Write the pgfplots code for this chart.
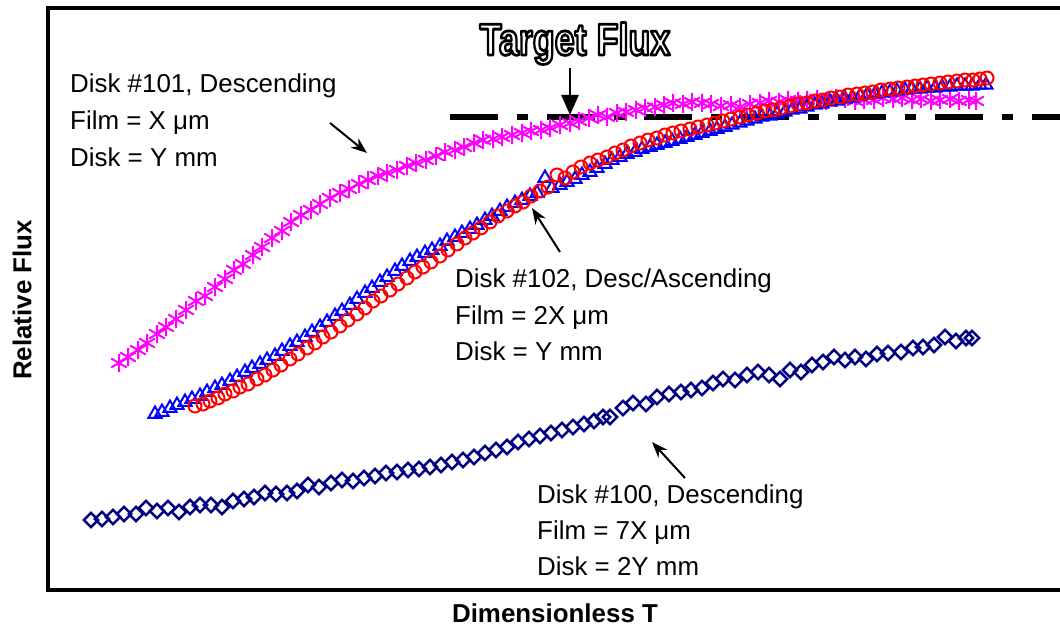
\documentclass[border=0pt]{standalone}
\usepackage{fontspec}
\setmainfont{Liberation Sans}
\usepackage{graphicx}
\usepackage{pgfplots}
\pgfplotsset{compat=1.18}
\usetikzlibrary{arrows.meta}
\definecolor{mag}{RGB}{255,0,255}
\definecolor{myblue}{RGB}{0,0,255}
\definecolor{myred}{RGB}{255,0,0}
\definecolor{navy}{RGB}{0,0,128}
\newcommand{\TF}{\fontsize{45}{45}\selectfont\bfseries\scalebox{0.8}[1]{\special{pdf:literal direct 0 G 2 Tr 2.8 w 1 J 1 j}Target Flux\special{pdf:literal direct 0 Tr}}}
\tikzset{lab/.style={anchor=base west, inner sep=0pt, font=\fontsize{26}{37}\selectfont}}
\begin{document}
\begin{tikzpicture}
\path[use as bounding box] (0,0) rectangle (1060bp,628bp);
\begin{axis}[
  at={(48bp,38bp)}, anchor=south west,
  scale only axis, width=1014bp, height=582bp,
  xmin=48, xmax=1062, ymin=8, ymax=590, y dir=reverse,
  axis line style={line width=4bp},
  ticks=none, clip=false,
]
% Disk #101 (magenta asterisks)
\addplot[only marks, mark=asterisk, color=mag, mark size=9bp, mark options={line width=2bp}] coordinates {
(119,363)(128,357)(138,350)(147,343)(157,334)(166,327)(176,319)(186,310)(196,301)(205,296)
(215,287)(225,279)(234,270)(243,264)(253,255)(262,247)(272,238)(282,231)(291,222)(301,215)
(311,210)(320,204)(330,198)(340,193)(349,189)(359,184)(368,180)(378,176)(387,173)(397,170)
(407,166)(416,163)(426,160)(436,156)(445,152)(455,150)(464,147)(474,143)(483,140)(493,139)
(502,137)(512,135)(522,133)(531,131)(541,130)(550,128)(560,125)(570,123)(579,121)(589,118)
(598,115)(607,117)(617,113)(626,112)(636,110)(645,108)(655,107)(664,105)(673,103)(683,104)
(692,102)(702,103)(711,104)(721,106)(731,105)(740,107)(750,104)(760,103)(769,101)(779,102)
(788,100)(798,101)(807,100)(817,99)(826,101)(836,98)(845,99)(855,101)(864,100)(874,100)
(883,98)(893,99)(902,98)(912,100)(921,99)(931,101)(940,100)(950,99)(959,101)(969,100)(976,101)
};
% Disk #102 (blue triangles)
\addplot[only marks, mark=triangle, color=myblue, mark size=7.5bp, mark options={line width=2bp}] coordinates {
(155,414)(162,412)(170,408)(177,405)(185,402)(192,399)(200,396)(207,392)(215,388)(222,385)
(230,381)(237,377)(245,372)(252,368)(260,364)(267,360)(275,356)(282,351)(290,346)(297,342)
(305,337)(312,332)(320,327)(327,322)(335,316)(342,311)(350,305)(357,299)(365,293)(372,288)
(380,282)(387,277)(395,271)(402,266)(410,261)(417,257)(425,253)(432,250)(440,246)(447,241)
(455,237)(462,233)(470,229)(477,225)(485,220)(492,216)(500,211)(507,207)(515,203)(522,200)
(530,196)(537,193)(545,178)(552,188)(560,185)(567,182)(575,179)(582,175)(590,172)(597,168)
(605,164)(612,160)(620,157)(627,154)(635,152)(642,149)(650,147)(657,145)(665,143)(672,141)
(680,139)(687,137)(695,135)(702,133)(710,131)(717,129)(725,127)(732,125)(740,123)(747,121)
(755,119)(762,117)(770,116)(777,114)(785,112)(792,110)(800,109)(807,107)(815,105)(822,104)
(830,102)(837,101)(845,99)(852,98)(860,96)(867,95)(875,94)(882,93)(890,92)(897,91)
(905,90)(912,89)(920,89)(927,88)(935,88)(942,87)(950,87)(957,86)(965,86)(972,86)(980,85)(986,85)
};
% Disk #102 (red circles)
\addplot[only marks, mark=o, color=myred, mark size=6.5bp, mark options={line width=2bp}] coordinates {
(195,406)(203,404)(210,401)(218,398)(225,394)(233,391)(240,387)(248,384)(257,379)(265,375)
(273,370)(281,365)(290,359)(298,354)(307,348)(315,343)(323,337)(331,332)(340,326)(348,320)
(357,314)(365,308)(373,301)(381,296)(390,290)(398,284)(407,278)(415,272)(423,267)(431,262)
(440,256)(448,250)(457,244)(465,238)(473,233)(481,228)(490,222)(498,216)(507,211)(515,206)
(523,202)(531,196)(540,191)(548,187)(557,175)(565,178)(573,172)(581,167)(590,163)(598,160)
(607,157)(615,153)(623,150)(631,146)(640,143)(648,140)(657,138)(665,135)(673,133)(681,131)
(690,129)(698,127)(707,125)(715,123)(723,121)(731,119)(740,117)(748,115)(757,113)(765,111)
(773,110)(781,108)(790,106)(798,104)(807,103)(815,101)(823,100)(831,98)(840,97)(848,95)
(857,94)(865,93)(873,92)(881,90)(890,89)(898,88)(907,87)(915,86)(923,85)(931,84)
(940,83)(948,82)(957,81)(965,80)(973,80)(980,79)(987,78)
};
% Disk #100 (navy diamonds)
\addplot[only marks, mark=square, color=navy, mark size=5bp, mark options={rotate=45, line width=2.4bp}] coordinates {
(91,520)(102,519)(113,517)(124,514)(136,514)(146,508)(157,511)(168,508)(179,512)(190,507)
(200,505)(211,505)(222,507)(233,501)(244,499)(254,497)(265,493)(276,494)(287,493)(297,491)
(308,485)(319,487)(331,483)(342,480)(353,481)(364,478)(375,476)(386,473)(397,472)(408,470)
(419,469)(430,467)(441,465)(452,462)(463,460)(474,457)(485,453)(496,450)(507,447)(518,442)
(529,439)(540,436)(551,433)(562,430)(573,427)(584,424)(594,421)(603,417)(610,417)(623,408)
(633,403)(646,404)(657,397)(669,394)(681,392)(691,390)(702,388)(713,383)(723,379)(735,380)
(747,375)(758,372)(769,375)(780,379)(790,370)(801,372)(812,365)(823,362)(834,357)(845,360)
(855,357)(866,359)(877,354)(888,353)(901,352)(913,348)(923,347)(934,345)(945,337)(956,341)
(966,338)(972,338)
};
% Target flux line
\addplot[black, line width=6bp, dash pattern=on 48bp off 19bp on 11bp off 19bp] coordinates {(450,117) (1062,117)};
\end{axis}
% Labels
\node[rotate=90, inner sep=0pt, font=\fontsize{26}{26}\selectfont\bfseries] at (22bp,328bp) {Relative Flux};
\node[anchor=base, inner sep=0pt, font=\fontsize{26}{26}\selectfont\bfseries] at (555bp,6bp) {Dimensionless T};
% Target Flux outlined title
\node[anchor=base, inner sep=0pt, text=white] at (575bp,573bp) {\TF};
\draw[line width=2.5bp, -{Triangle[length=20bp,width=17bp]}] (570bp,560bp) -- (570bp,513bp);
% Annotations
\node[lab] at (70bp,535.5bp) {Disk \#101, Descending};
\node[lab] at (70bp,498.5bp) {Film = X μm};
\node[lab] at (70bp,461.5bp) {Disk = Y mm};
\draw[line width=2bp, -{Stealth[length=16bp,width=12bp]}] (330bp,505bp) -- (367bp,475bp);
\node[lab] at (455bp,340.5bp) {Disk \#102, Desc/Ascending};
\node[lab] at (455bp,303.5bp) {Film = 2X μm};
\node[lab] at (455bp,267.5bp) {Disk = Y mm};
\draw[line width=2bp, -{Stealth[length=16bp,width=12bp]}] (560bp,376bp) -- (532bp,420bp);
\node[lab] at (537bp,124.5bp) {Disk \#100, Descending};
\node[lab] at (537bp,88.5bp) {Film = 7X μm};
\node[lab] at (537bp,52.5bp) {Disk = 2Y mm};
\draw[line width=2bp, -{Stealth[length=16bp,width=12bp]}] (685bp,150bp) -- (652bp,186bp);
\end{tikzpicture}
\end{document}
